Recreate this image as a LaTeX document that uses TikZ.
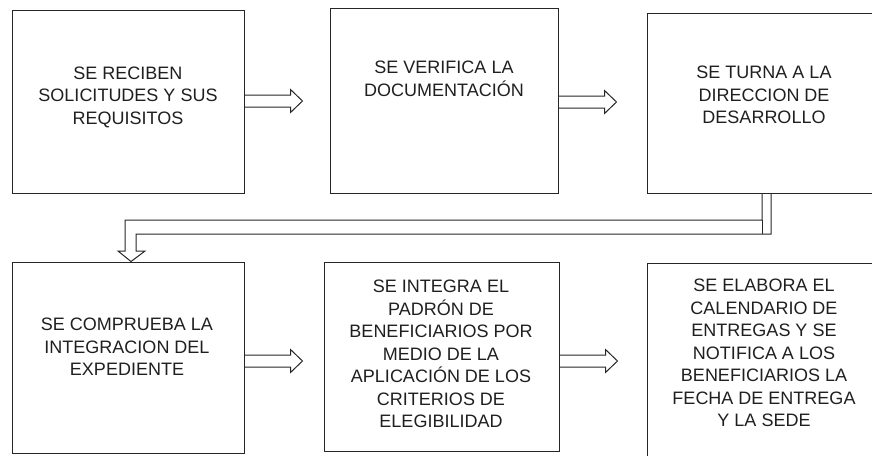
\documentclass[tikz,border=0pt]{standalone}
\usepackage{fontspec}
\setmainfont{Liberation Sans}
\usetikzlibrary{calc}
\newcommand\blockarrow[1]{\draw[arrline] ($(#1)+(0,-6)$) -- ++(46,0) -- ++(0,-5.5) -- ++(12,11.5) -- ++(-12,11.5) -- ++(0,-5.5) -- ++(-46,0);}
\begin{document}
\begin{tikzpicture}[x=1pt,y=-1pt,
  box/.style={draw=black!85,line width=1pt,rectangle,inner sep=0pt},
  txt/.style={align=center,text=black!88,inner sep=0pt,font=\fontsize{18}{22.5}\selectfont},
  arrline/.style={draw=black!85,line width=1pt,line join=miter}]
\useasboundingbox (0,0) rectangle (872,455);
% boxes
\node[box,minimum width=232pt,minimum height=183pt] (b1) at (128,101.5) {};
\node[box,minimum width=228pt,minimum height=185pt] (b2) at (444,100.5) {};
\node[box,minimum width=234pt,minimum height=180pt] (b3) at (764,103) {};
\node[box,minimum width=232pt,minimum height=191pt] (b4) at (128,357.5) {};
\node[box,minimum width=235pt,minimum height=189pt] (b5) at (441.5,356.5) {};
\node[box,minimum width=234pt,minimum height=207pt] (b6) at (764,366.5) {};
% texts
\node[txt] (t1) at (128,97) {SE RECIBEN\\SOLICITUDES Y SUS\\REQUISITOS};
\node[txt] (t2) at (444,79) {SE VERIFICA LA\\DOCUMENTACIÓN};
\node[txt] (t3) at (764,95) {SE TURNA A LA\\DIRECCION DE\\DESARROLLO};
\node[txt] (t4) at (127,347) {SE COMPRUEBA LA\\INTEGRACION DEL\\EXPEDIENTE};
\node[txt] (t5) at (441,354) {SE INTEGRA EL\\PADRÓN DE\\BENEFICIARIOS POR\\MEDIO DE LA\\APLICACIÓN DE LOS\\CRITERIOS DE\\ELEGIBILIDAD};
\node[txt] (t6) at (764,353) {SE ELABORA EL\\CALENDARIO DE\\ENTREGAS Y SE\\NOTIFICA A LOS\\BENEFICIARIOS LA\\FECHA DE ENTREGA\\Y LA SEDE};
% arrow start points
\coordinate (r1) at (0,101);
\coordinate (r2) at (0,102);
\coordinate (r4) at (0,361);
\coordinate (r5) at (0,361);
\coordinate (a1) at (b1.east |- r1);
\coordinate (a2) at (b2.east |- r2);
\coordinate (a4) at (b4.east |- r4);
\coordinate (a5) at (b5.east |- r5);
\blockarrow{a1}
\blockarrow{a2}
\blockarrow{a4}
\blockarrow{a5}
% pipe connector from b3 to b4
\coordinate (pR) at ($(b3.south)+(7,0)$);
\coordinate (pL) at ($(b3.south)+(-2,0)$);
\coordinate (qL) at ($(b4.north)+(-3,0)$);
\coordinate (qR) at ($(b4.north)+(8,0)$);
\coordinate (tip) at ($(b4.north)+(3,0)$);
\coordinate (yb) at (0,234);
\coordinate (yt) at (0,220);
\coordinate (yh) at (0,251);
\draw[arrline] (pR) -- (pR |- yb) -- (qR |- yb) -- (qR |- yh) -- ++(9,0) -- (tip) -- ($(qL |- yh)+(-7,0)$) -- (qL |- yh) -- (qL |- yt) -- (pL |- yt) -- (pL);
\draw[arrline] (pL |- yt) -- (pL |- yb);
\end{tikzpicture}
\end{document}
